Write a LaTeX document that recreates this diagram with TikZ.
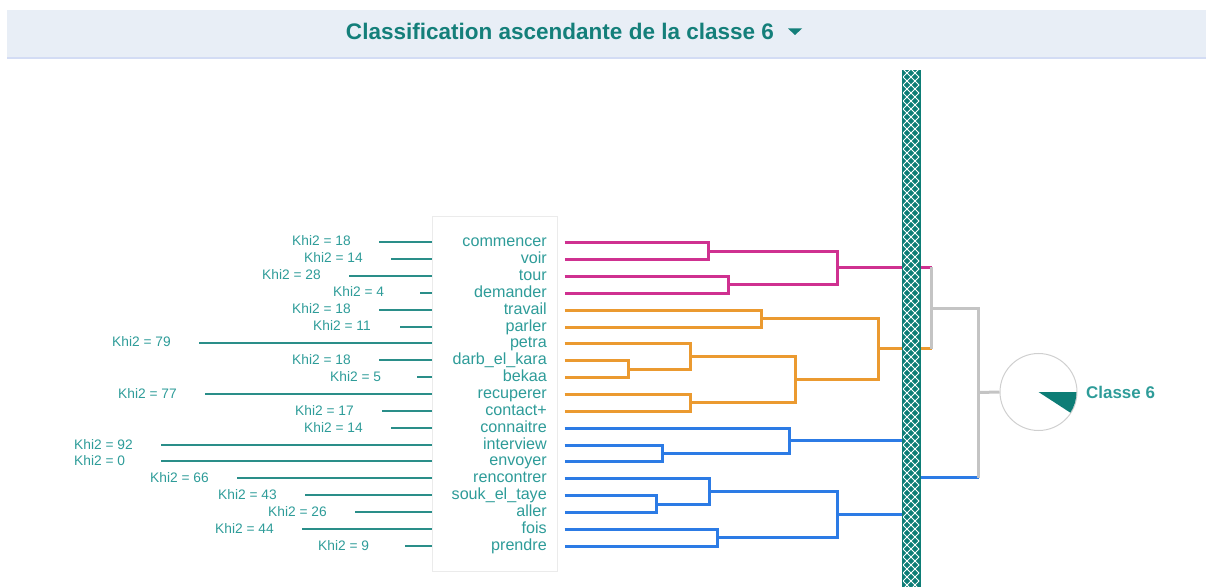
\documentclass[tikz,border=0pt]{standalone}
\usepackage{fontspec}
\setmainfont{Liberation Sans}
\definecolor{hdr}{HTML}{E8EEF6}
\definecolor{hdrline}{HTML}{D3DCF4}
\definecolor{ttl}{HTML}{147F7A}
\definecolor{lbl}{HTML}{2E9C99}
\definecolor{khiline}{HTML}{2A8E89}
\definecolor{mag}{HTML}{CF3190}
\definecolor{org}{HTML}{EB9A30}
\definecolor{blu}{HTML}{2C7BE5}
\definecolor{gry}{HTML}{C4C4C4}
\definecolor{barc}{HTML}{0D7D76}
\definecolor{boxc}{HTML}{EBEBEB}
\definecolor{circc}{HTML}{CFCFCF}
\begin{document}
\begin{tikzpicture}[x=1bp,y=-1bp,
  word/.style={anchor=base east,inner sep=0pt,text=lbl,font=\fontsize{16.2}{16}\selectfont},
  khi/.style={anchor=base west,inner sep=0pt,text=lbl,font=\fontsize{13.8}{14}\selectfont},
  khiln/.style={draw=khiline,line width=1.8bp},
  magl/.style={draw=mag,line width=3bp},
  orgl/.style={draw=org,line width=3bp},
  blul/.style={draw=blu,line width=3bp},
  gryl/.style={draw=gry,line width=3bp},
  ttlstyle/.style={anchor=base,inner sep=0pt,text=ttl,font=\fontsize{22.6}{22}\selectfont\bfseries}]
\useasboundingbox (0,0) rectangle (1206,587);
% header
\fill[hdr] (7,10) rectangle (1206,58);
\draw[hdrline,line width=1.2bp] (7,58) -- (1206,58);
\node[ttlstyle] (title) at (560,40) {Classification ascendante de la classe 6};
\fill[ttl] (788,28.5) -- (802,28.5) -- (795,35) -- cycle;
% label box
\draw[boxc,fill=white,line width=1bp] (432,217) rectangle (557,571);
% rows
\foreach \w/\k/\L [count=\i from 0] in {commencer/18/18,voir/14/14,tour/28/28,demander/4/4,travail/18/18,parler/11/11,petra/79/79,darb\_el\_kara/18/18,bekaa/5/5,recuperer/77/77,contact+/17/17,connaitre/14/14,interview/92/92,envoyer/0/92,rencontrer/66/66,souk\_el\_taye/43/43,aller/26/26,fois/44/44,prendre/9/9}{
  \pgfmathsetmacro\yy{round(242.3+16.86*\i)}
  \pgfmathsetmacro\xs{round(432-2.95*\L)}
  \coordinate (k\i) at (\xs,\yy);
  \coordinate (b\i) at (432,\yy);
  \draw[khiln] (k\i) -- (b\i);
  \node[khi] (kl\i) at (\xs-87,\yy+4) {Khi2 = \k};
  \node[word] (w\i) at (547,\yy+4.5) {\w};
  \coordinate (l\i) at (564.5,\yy+0.5);
}
% magenta cluster
\coordinate (mA) at (708.5,251.5);
\coordinate (mB) at (728.5,284.5);
\coordinate (mC) at (837.5,267.5);
\coordinate (mEnd) at (931.5,267.5);
\draw[magl] (l0) -| (mA) |- (l1);
\draw[magl] (l2) -| (mB) |- (l3);
\draw[magl] (mA) -| (mC) |- (mB);
\draw[magl] (mC) -- (mEnd);
% orange cluster
\coordinate (oA) at (761.5,318.5);
\coordinate (oB) at (628.5,369.5);
\coordinate (oC) at (690.5,356.5);
\coordinate (oD) at (690.5,402.5);
\coordinate (oE) at (795.5,379.5);
\coordinate (oF) at (878.5,348.5);
\coordinate (oEnd) at (931.5,348.5);
\draw[orgl] (l4) -| (oA) |- (l5);
\draw[orgl] (l7) -| (oB) |- (l8);
\draw[orgl] (l6) -| (oC) |- (oB);
\draw[orgl] (l9) -| (oD) |- (l10);
\draw[orgl] (oC) -| (oE) |- (oD);
\draw[orgl] (oA) -| (oF) |- (oE);
\draw[orgl] (oF) -- (oEnd);
% blue cluster
\coordinate (bA) at (662.5,453.5);
\coordinate (bB) at (789.5,440.5);
\coordinate (bC) at (656.5,504.5);
\coordinate (bD) at (709.5,491.5);
\coordinate (bE) at (717.5,537.5);
\coordinate (bF) at (837.5,514.5);
\coordinate (bG) at (910.5,477.5);
\coordinate (bEnd) at (978.5,477.5);
\draw[blul] (l12) -| (bA) |- (l13);
\draw[blul] (l11) -| (bB) |- (bA);
\draw[blul] (l15) -| (bC) |- (l16);
\draw[blul] (l14) -| (bD) |- (bC);
\draw[blul] (l17) -| (bE) |- (l18);
\draw[blul] (bD) -| (bF) |- (bE);
\draw[blul] (bB) -| (bG) |- (bF);
\draw[blul] (bG) -- (bEnd);
% hatched bar
\fill[barc] (901.5,70) rectangle (920.5,587);
\begin{scope}
  \clip (903,70) rectangle (919,587);
  \foreach \j in {0,...,72}{
    \draw[white,line width=1bp] (894,44+8*\j) -- ++(34,34);
    \draw[white,line width=1bp] (894,78+8*\j) -- ++(34,-34);
  }
\end{scope}
% gray links
\coordinate (gA) at (931.5,308.5);
\coordinate (gA2) at (978.5,308.5);
\coordinate (gB) at (978.5,392.5);
\draw[gryl] (mEnd) -- (oEnd);
\draw[gryl] (gA) -- (gA2) -- (bEnd);
\node[circle,draw=circc,line width=1bp,minimum size=77bp,inner sep=0pt] (pie) at (1038.5,392) {};
\draw[gryl] (gB) -- (pie.west);
\fill[barc] (pie.center) -- ++(0:38) arc[start angle=0,end angle=33,radius=38] -- cycle;
\node[anchor=base west,inner sep=0pt,text=lbl,font=\fontsize{17}{17}\selectfont\bfseries] (cl) at (1086,398) {Classe 6};
\end{tikzpicture}
\end{document}
